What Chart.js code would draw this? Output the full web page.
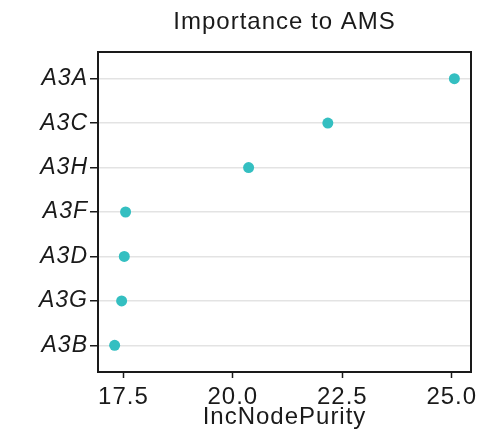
<!DOCTYPE html>
<html>
<head>
<meta charset="utf-8">
<script src="https://cdn.jsdelivr.net/npm/chart.js@4/dist/chart.umd.min.js"></script>
<style>
  html, body { margin: 0; padding: 0; background: #fff; }
  #wrap { width: 490px; height: 434px; }
</style>
</head>
<body>
<div id="wrap"><canvas id="purityChart" width="490" height="434"></canvas></div>
<script>
// Variable importance (IncNodePurity) for AMS
const categories = ['A3A', 'A3C', 'A3H', 'A3F', 'A3D', 'A3G', 'A3B'];
const purity = [25.06, 22.17, 20.36, 17.55, 17.52, 17.46, 17.30];
const xTickValues = [17.5, 20.0, 22.5, 25.0];

const FONT = "'Liberation Sans', Arial, sans-serif";
const INK = '#1a1a1a';

// slightly wider text, and a black frame around the plotting area
const panelBox = {
  id: 'panelBox',
  beforeLayout(chart) { chart.ctx.letterSpacing = '1px'; },
  beforeDraw(chart) { chart.ctx.letterSpacing = '1px'; },
  afterDraw(chart) {
    const { ctx, chartArea: a } = chart;
    ctx.save();
    ctx.strokeStyle = INK;
    ctx.lineWidth = 2;
    ctx.strokeRect(a.left, a.top, a.right - a.left, a.bottom - a.top);
    ctx.restore();
  }
};

const ctx = document.getElementById('purityChart');

new Chart(ctx, {
  type: 'scatter',
  data: {
    datasets: [{
      label: 'IncNodePurity',
      data: purity.map((v, i) => ({ x: v, y: i })),
      backgroundColor: '#34bfc1',
      borderWidth: 0,
      pointRadius: 5.5,
      pointHoverRadius: 5.5
    }]
  },
  options: {
    responsive: false,
    animation: false,
    layout: { padding: { left: 0, right: 19, top: 0, bottom: 0 } },
    plugins: {
      legend: { display: false },
      tooltip: { enabled: false },
      title: {
        display: true,
        text: 'Importance to AMS',
        fullSize: false,
        color: INK,
        font: { family: FONT, size: 24, weight: 'normal', lineHeight: 1.2 },
        padding: { top: 8, bottom: 15.2 }
      }
    },
    scales: {
      x: {
        type: 'linear',
        min: 16.92,
        max: 25.44,
        afterFit: (scale) => { scale.height = 62; },
        afterBuildTicks: (axis) => { axis.ticks = xTickValues.map(v => ({ value: v })); },
        border: { display: false },
        grid: {
          drawOnChartArea: false,
          drawTicks: true,
          tickLength: 6,
          tickColor: INK,
          tickWidth: 1.5
        },
        ticks: {
          color: INK,
          padding: 5,
          maxRotation: 0,
          font: { family: FONT, size: 24 },
          callback: (v) => Number(v).toFixed(1)
        },
        title: {
          display: true,
          text: 'IncNodePurity',
          color: INK,
          font: { family: FONT, size: 24, lineHeight: 1 },
          padding: { top: 0, bottom: 5 }
        }
      },
      y: {
        type: 'linear',
        reverse: true,
        min: -0.6,
        max: 6.6,
        afterFit: (scale) => { scale.width = 98; },
        border: { display: false },
        grid: {
          color: '#e3e3e3',
          lineWidth: 1.5,
          drawTicks: true,
          tickLength: 8,
          tickColor: INK,
          tickWidth: 1.5
        },
        ticks: {
          stepSize: 1,
          includeBounds: false,
          color: INK,
          padding: 2,
          font: { family: FONT, size: 23, style: 'italic' },
          callback: (v) => categories[v] ?? ''
        }
      }
    }
  },
  plugins: [panelBox]
});
</script>
</body>
</html>
